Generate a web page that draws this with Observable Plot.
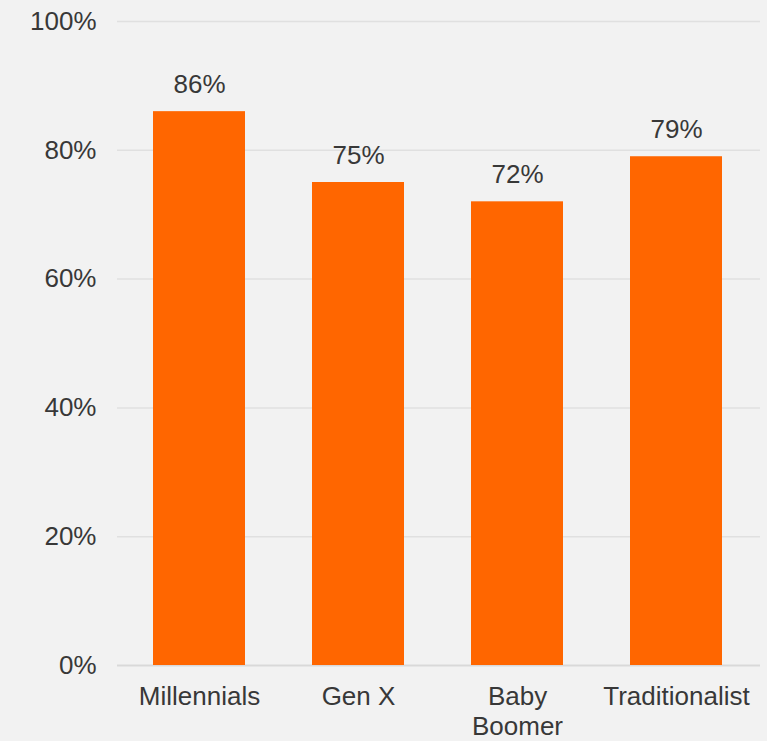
<!DOCTYPE html>
<html>
<head>
<meta charset="utf-8">
<script src="https://cdn.jsdelivr.net/npm/d3@7"></script>
<script src="https://cdn.jsdelivr.net/npm/@observablehq/plot@0.6"></script>
<style>
  html, body { margin: 0; padding: 0; background: #f2f2f2; }
  #chart svg { display: block; background: #f2f2f2; }
</style>
</head>
<body>
<div id="chart"></div>
<script>
const categories = ["Millennials", "Gen X", "Baby Boomer", "Traditionalist"];
const values = [0.86, 0.75, 0.72, 0.79];
const yTicks = [0, 0.2, 0.4, 0.6, 0.8, 1.0];

const data = categories.map((c, i) => ({ category: c, value: values[i] }));
const pct = d3.format(".0%");
const textColor = "#383838";

const chart = Plot.plot({
  width: 767,
  height: 741,
  marginTop: 21,
  marginBottom: 76,
  marginLeft: 118,
  marginRight: 10,
  style: { background: "#f2f2f2", fontFamily: "'Liberation Sans', Arial, sans-serif", color: textColor },
  x: { domain: categories, paddingInner: 0.424, paddingOuter: 0.213, label: null },
  y: { domain: [0, 1], label: null },
  marks: [
    Plot.ruleY(yTicks.filter(t => t > 0), { stroke: "#e0e0e0", strokeWidth: 1.5, insetRight: -3, insetLeft: -1 }),
    Plot.ruleY([0], { stroke: "#d9d9d9", strokeWidth: 2, insetRight: -3, insetLeft: -1 }),
    Plot.barY(data, { x: "category", y: "value", fill: "#ff6600" }),
    Plot.text(data, {
      x: "category", y: "value", text: d => pct(d.value),
      lineAnchor: "bottom", dy: -19, fontSize: 26, fill: textColor
    }),
    Plot.axisY({
      ticks: yTicks, tickFormat: pct, tickSize: 0, tickPadding: 22,
      fontSize: 26, fill: textColor, label: null
    }),
    Plot.axisX({
      tickSize: 0, tickPadding: 18, fontSize: 26, fill: textColor, label: null,
      lineHeight: 1.15,
      tickFormat: d => d === "Baby Boomer" ? "Baby\nBoomer" : d
    })
  ]
});
document.getElementById("chart").appendChild(chart);
</script>
</body>
</html>
